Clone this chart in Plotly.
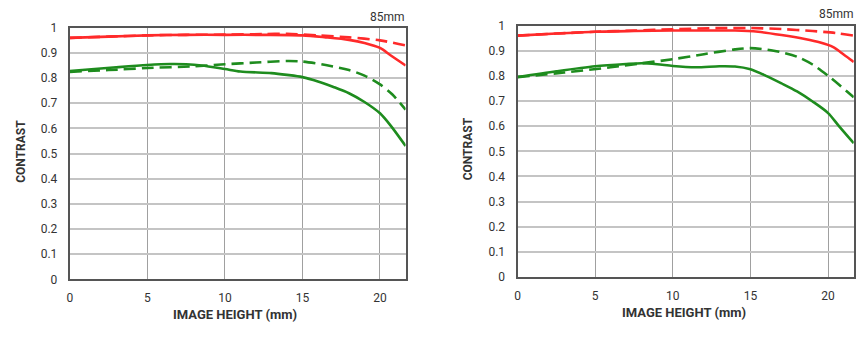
import plotly.graph_objects as go

# ---- data (image height in mm, contrast) ----
x_l_red_s = [0, 2.5, 5, 7.5, 10, 12.5, 15, 16.5, 18, 19, 20, 20.7, 21.65]
y_l_red_s = [0.96, 0.965, 0.97, 0.972, 0.972, 0.972, 0.97, 0.962, 0.952, 0.94, 0.92, 0.89, 0.85]
x_l_red_d = [0, 2.5, 5, 7.5, 10, 12.5, 14, 16, 18, 20, 21.65]
y_l_red_d = [0.96, 0.965, 0.97, 0.972, 0.973, 0.975, 0.976, 0.97, 0.962, 0.95, 0.93]
x_l_grn_s = [0, 3, 5, 6.5, 7.5, 8.5, 10, 11, 13, 14, 15, 16, 17, 18, 19, 20, 20.7, 21.65]
y_l_grn_s = [0.828, 0.843, 0.852, 0.856, 0.855, 0.85, 0.836, 0.826, 0.82, 0.813, 0.804, 0.787, 0.765, 0.74, 0.705, 0.66, 0.61, 0.53]
x_l_grn_d = [0, 2.5, 5, 8, 10, 12, 14, 15, 16.5, 18, 19, 20, 20.8, 21.65]
y_l_grn_d = [0.825, 0.832, 0.84, 0.847, 0.855, 0.862, 0.868, 0.866, 0.852, 0.832, 0.81, 0.775, 0.735, 0.675]

x_r_red_s = [0, 2.5, 5, 7.5, 10, 12.5, 14, 15.5, 17, 18.5, 19.5, 20.3, 21, 21.65]
y_r_red_s = [0.96, 0.968, 0.975, 0.978, 0.98, 0.98, 0.98, 0.975, 0.962, 0.946, 0.932, 0.915, 0.885, 0.855]
x_r_red_d = [0, 2.5, 5, 7.5, 10, 13, 15, 17, 19, 20.5, 21.65]
y_r_red_d = [0.96, 0.968, 0.975, 0.98, 0.985, 0.99, 0.99, 0.986, 0.978, 0.97, 0.96]
x_r_grn_s = [0, 2.5, 5, 7, 8, 9, 10, 11.5, 13, 14, 15, 16, 17, 18, 19, 20, 20.7, 21.65]
y_r_grn_s = [0.795, 0.818, 0.838, 0.847, 0.85, 0.846, 0.839, 0.834, 0.838, 0.837, 0.826, 0.8, 0.77, 0.738, 0.698, 0.652, 0.6, 0.532]
x_r_grn_d = [0, 3, 6, 8, 10, 12, 14, 15, 16.5, 18, 19, 20, 20.8, 21.65]
y_r_grn_d = [0.795, 0.813, 0.834, 0.85, 0.866, 0.886, 0.905, 0.91, 0.9, 0.876, 0.845, 0.8, 0.76, 0.715]

x_ticks = [0, 5, 10, 15, 20]
y_ticks = [0, 0.1, 0.2, 0.3, 0.4, 0.5, 0.6, 0.7, 0.8, 0.9, 1]
y_tick_text = ["0", "0.1", "0.2", "0.3", "0.4", "0.5", "0.6", "0.7", "0.8", "0.9", "1"]

RED = "#FF2A2A"
GREEN = "#1E8C1E"
FONT = "Roboto"
DASH = "12px,6px"

fig = go.Figure()

def add(x, y, color, dash, xa, ya):
    fig.add_trace(go.Scatter(
        x=x, y=y, mode="lines", xaxis=xa, yaxis=ya,
        line=dict(color=color, width=2.6, dash=dash, shape="spline", smoothing=0.8),
        showlegend=False, hoverinfo="skip"))

add(x_l_grn_d, y_l_grn_d, GREEN, DASH, "x", "y")
add(x_l_grn_s, y_l_grn_s, GREEN, "solid", "x", "y")
add(x_l_red_d, y_l_red_d, RED, DASH, "x", "y")
add(x_l_red_s, y_l_red_s, RED, "solid", "x", "y")
add(x_r_grn_d, y_r_grn_d, GREEN, DASH, "x2", "y2")
add(x_r_grn_s, y_r_grn_s, GREEN, "solid", "x2", "y2")
add(x_r_red_d, y_r_red_d, RED, DASH, "x2", "y2")
add(x_r_red_s, y_r_red_s, RED, "solid", "x2", "y2")

W, H = 862, 341

xcommon = dict(range=[0, 21.65], tickvals=x_ticks, showgrid=True, gridcolor="#a0a0a0", gridwidth=1,
               showline=True, linecolor="#555555", linewidth=2, mirror=True, zeroline=False,
               ticks="", ticklabelstandoff=6,
               tickfont=dict(family=FONT, size=12, color="#333333"), fixedrange=True)
ycommon = dict(range=[0, 1], tickvals=y_ticks, ticktext=y_tick_text, showgrid=True, gridcolor="#c4c4c4",
               gridwidth=1.5, showline=True, linecolor="#555555", linewidth=2, mirror=True, zeroline=False,
               ticks="", ticklabelstandoff=8,
               tickfont=dict(family=FONT, size=12, color="#333333"), fixedrange=True)

fig.update_layout(
    width=W, height=H, margin=dict(l=0, r=0, t=0, b=0),
    paper_bgcolor="white", plot_bgcolor="white",
    xaxis=dict(domain=[67 / W, 404 / W], anchor="y", **xcommon),
    yaxis=dict(domain=[(H - 284) / H, (H - 21.7) / H], anchor="x", **ycommon),
    xaxis2=dict(domain=[516.3 / W, 853.7 / W], anchor="y2", **xcommon),
    yaxis2=dict(domain=[(H - 281.7) / H, (H - 19.3) / H], anchor="x2", **ycommon),
)

def ann(text, x, y, size, bold=False, angle=0, xanchor="center"):
    fig.add_annotation(text=f"<b>{text}</b>" if bold else text, x=x / W, y=1 - y / H,
                       xref="paper", yref="paper", showarrow=False, textangle=angle,
                       xanchor=xanchor, yanchor="middle",
                       font=dict(family=FONT, size=size, color="#333333"))

ann("CONTRAST", 18, 150, 12, bold=True, angle=-90)
ann("CONTRAST", 467, 148, 12, bold=True, angle=-90)
ann("IMAGE HEIGHT (mm)", 233, 321, 13, bold=True)
ann("IMAGE HEIGHT (mm)", 683, 319, 13, bold=True)
ann("85mm", 405, 10, 12, xanchor="right")
ann("85mm", 856, 7, 12, xanchor="right")

fig.write_html("out.html")
